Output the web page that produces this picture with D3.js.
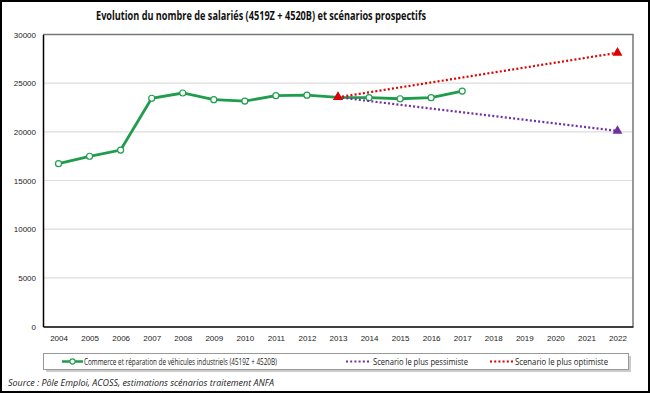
<!DOCTYPE html>
<html>
<head>
<meta charset="utf-8">
<script src="https://cdn.jsdelivr.net/npm/d3@7"></script>
<style>
  body { margin: 0; background: #fff; }
  svg { display: block; font-family: "Open Sans", "Noto Sans", sans-serif; }
</style>
</head>
<body>
<script>
// data
let years = ["2004", "2005", "2006", "2007", "2008", "2009", "2010", "2011", "2012", "2013",
    "2014", "2015", "2016", "2017", "2018", "2019", "2020", "2021", "2022"];
let salaries = [
    {year: "2004", v: 16730}, {year: "2005", v: 17490}, {year: "2006", v: 18130},
    {year: "2007", v: 23450}, {year: "2008", v: 23990}, {year: "2009", v: 23300},
    {year: "2010", v: 23160}, {year: "2011", v: 23710}, {year: "2012", v: 23770},
    {year: "2013", v: 23550}, {year: "2014", v: 23510}, {year: "2015", v: 23400},
    {year: "2016", v: 23510}, {year: "2017", v: 24190}
];
let pessimiste = [{year: "2013", v: 23550}, {year: "2022", v: 20100}];
let optimiste = [{year: "2013", v: 23550}, {year: "2022", v: 28120}];
let yTicks = [0, 5000, 10000, 15000, 20000, 25000, 30000];

let width = 650, height = 393;
let margin = {top: 34.5, right: 17, bottom: 66.5, left: 43};

let svg = d3.select("body")
    .append("svg")
    .attr("width", width)
    .attr("height", height);

let x = d3.scalePoint()
    .domain(years)
    .range([margin.left, width - margin.right])
    .padding(0.5);

let y = d3.scaleLinear()
    .domain([0, 30000])
    .range([height - margin.bottom, margin.top]);

// outer frame
svg.append("rect")
    .attr("x", 1).attr("y", 1)
    .attr("width", width - 2).attr("height", height - 2)
    .attr("fill", "none")
    .attr("stroke", "#000")
    .attr("stroke-width", 2);

// title
svg.append("text")
    .attr("x", 261).attr("y", 20)
    .attr("text-anchor", "middle")
    .attr("font-size", 13)
    .attr("font-weight", "bold")
    .attr("textLength", 330)
    .attr("lengthAdjust", "spacingAndGlyphs")
    .attr("fill", "#111")
    .text("Evolution du nombre de salariés (4519Z + 4520B) et scénarios prospectifs");

// gridlines
svg.append("g")
    .selectAll("line")
    .data(yTicks.filter(d => d > 0 && d < 30000))
    .join("line")
    .attr("x1", margin.left).attr("x2", width - margin.right)
    .attr("y1", d => y(d)).attr("y2", d => y(d))
    .attr("stroke", "#dcdcdc")
    .attr("stroke-width", 1.2);

// plot frame top/right
svg.append("path")
    .attr("d", `M${margin.left},${y(30000)}H${width - margin.right}V${y(0)}`)
    .attr("fill", "none")
    .attr("stroke", "#777")
    .attr("stroke-width", 1.5);

// y axis
let yAxis = svg.append("g")
    .attr("transform", `translate(${margin.left},0)`)
    .call(d3.axisLeft(y).tickValues(yTicks).tickSize(0).tickPadding(7).tickFormat(d3.format("d")));
yAxis.select(".domain").attr("stroke", "#000").attr("stroke-width", 1.5);
yAxis.selectAll("text").attr("font-size", 8).attr("fill", "#222").attr("font-family", null);

// x axis
let xAxis = svg.append("g")
    .attr("transform", `translate(0,${y(0)})`)
    .call(d3.axisBottom(x).tickSize(0).tickPadding(9));
xAxis.select(".domain").attr("stroke", "#000").attr("stroke-width", 1.5);
xAxis.selectAll("text").attr("font-size", 8).attr("fill", "#222").attr("font-family", null);

let line = d3.line()
    .x(d => x(d.year))
    .y(d => y(d.v));

// main series
svg.append("path")
    .datum(salaries)
    .attr("d", line)
    .attr("fill", "none")
    .attr("stroke", "#1f9d4d")
    .attr("stroke-width", 2.8);

svg.append("g")
    .selectAll("circle")
    .data(salaries.filter(d => d.year !== "2013"))
    .join("circle")
    .attr("cx", d => x(d.year))
    .attr("cy", d => y(d.v))
    .attr("r", 3)
    .attr("fill", "#fff")
    .attr("stroke", "#1f9d4d")
    .attr("stroke-width", 1.2);

// scenarios
svg.append("path")
    .datum(pessimiste)
    .attr("d", line)
    .attr("fill", "none")
    .attr("stroke", "#7030a0")
    .attr("stroke-width", 2.2)
    .attr("stroke-dasharray", "2,2.2");

svg.append("path")
    .datum(optimiste)
    .attr("d", line)
    .attr("fill", "none")
    .attr("stroke", "#e00000")
    .attr("stroke-width", 2.2)
    .attr("stroke-dasharray", "2,2.2");

let tri = d3.symbol().type(d3.symbolTriangle).size(42);

svg.append("g")
    .selectAll("path")
    .data(pessimiste)
    .join("path")
    .attr("transform", d => `translate(${x(d.year)},${y(d.v)})`)
    .attr("d", tri)
    .attr("fill", "#7030a0");

svg.append("g")
    .selectAll("path")
    .data(optimiste)
    .join("path")
    .attr("transform", d => `translate(${x(d.year)},${y(d.v)})`)
    .attr("d", tri)
    .attr("fill", "#e00000");

// legend
let legend = svg.append("g");
legend.append("rect")
    .attr("x", 46).attr("y", 356)
    .attr("width", 585).attr("height", 16)
    .attr("fill", "#aaa")
    .attr("opacity", 0.6);
legend.append("rect")
    .attr("x", 43.5).attr("y", 353.5)
    .attr("width", 585).attr("height", 16)
    .attr("fill", "#fff")
    .attr("stroke", "#999");

legend.append("line")
    .attr("x1", 62).attr("x2", 83).attr("y1", 361.5).attr("y2", 361.5)
    .attr("stroke", "#1f9d4d").attr("stroke-width", 2.5);
legend.append("circle")
    .attr("cx", 72.5).attr("cy", 361.5).attr("r", 2.6)
    .attr("fill", "#fff").attr("stroke", "#1f9d4d").attr("stroke-width", 1.1);
legend.append("line")
    .attr("x1", 346).attr("x2", 371).attr("y1", 361.5).attr("y2", 361.5)
    .attr("stroke", "#7030a0").attr("stroke-width", 2).attr("stroke-dasharray", "2,2.2");
legend.append("line")
    .attr("x1", 490).attr("x2", 513).attr("y1", 361.5).attr("y2", 361.5)
    .attr("stroke", "#e00000").attr("stroke-width", 2).attr("stroke-dasharray", "2,2.2");

let legendItems = [
    {x: 84, w: 193, label: "Commerce et réparation de véhicules industriels (4519Z + 4520B)"},
    {x: 373, w: 95, label: "Scenario le plus pessimiste"},
    {x: 515, w: 93, label: "Scenario le plus optimiste"}
];
legend.selectAll("text")
    .data(legendItems)
    .join("text")
    .attr("x", d => d.x).attr("y", 364.5)
    .attr("font-size", 8.5)
    .attr("fill", "#222")
    .attr("textLength", d => d.w)
    .attr("lengthAdjust", "spacingAndGlyphs")
    .text(d => d.label);

// source
svg.append("text")
    .attr("x", 8).attr("y", 386)
    .attr("font-size", 9)
    .attr("font-style", "italic")
    .attr("fill", "#222")
    .attr("textLength", 266)
    .attr("lengthAdjust", "spacingAndGlyphs")
    .text("Source : Pôle Emploi, ACOSS, estimations scénarios traitement ANFA");
</script>
</body>
</html>
